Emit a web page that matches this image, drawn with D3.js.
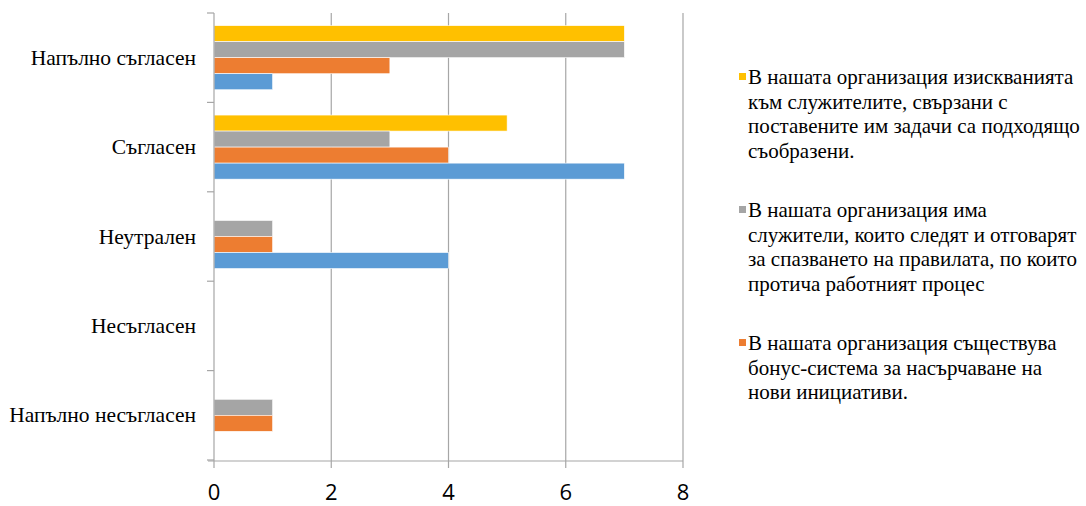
<!DOCTYPE html>
<html>
<head>
<meta charset="utf-8">
<script src="https://cdn.jsdelivr.net/npm/d3@7"></script>
<style>
  body { margin: 0; background: #fff; }
  svg { display: block; }
</style>
</head>
<body>
<div id="chart"></div>
<script>
// categories, top to bottom
const categories = ["Напълно съгласен", "Съгласен", "Неутрален", "Несъгласен", "Напълно несъгласен"];

// series values, one per category (same order)
const blueVals   = [1, 7, 4, 0, 0];
const orangeVals = [3, 4, 1, 0, 1];
const grayVals   = [7, 3, 1, 0, 1];
const yellowVals = [7, 5, 0, 0, 0];

const xTicks = [0, 2, 4, 6, 8];

// legend texts (blue series is not shown in the legend)
const legendYellow = ["В нашата организация изискванията", "към служителите, свързани с", "поставените им задачи са подходящо", "съобразени."];
const legendGray   = ["В нашата организация има", "служители, които следят и отговарят", "за спазването на правилата, по които", "протича работният процес"];
const legendOrange = ["В нашата организация съществува", "бонус-система за насърчаване на", "нови инициативи."];

const series = [
  { key: "yellow", color: "#FFC000", values: yellowVals, legend: legendYellow },
  { key: "gray",   color: "#A5A5A5", values: grayVals,   legend: legendGray },
  { key: "orange", color: "#ED7D31", values: orangeVals, legend: legendOrange },
  { key: "blue",   color: "#5B9BD5", values: blueVals,   legend: null }
];

const width = 1086;
const height = 506;
const plot = { left: 214, right: 683, top: 13, bottom: 460 };
const serif = "Liberation Serif, Times New Roman, serif";

const svg = d3.select("#chart")
  .append("svg")
  .attr("width", width)
  .attr("height", height);

const xScale = d3.scaleLinear()
  .domain([0, 8])
  .range([plot.left, plot.right]);

const yScale = d3.scaleBand()
  .domain(categories)
  .range([plot.top, plot.bottom]);

const yInner = d3.scaleBand()
  .domain(series.map(d => d.key))
  .range([0, yScale.bandwidth()])
  .paddingOuter(0.79);

// gridlines
svg.append("g")
  .selectAll("line")
  .data(xTicks.filter(d => d > 0))
  .join("line")
  .attr("x1", d => xScale(d))
  .attr("x2", d => xScale(d))
  .attr("y1", plot.top)
  .attr("y2", plot.bottom + 8)
  .attr("stroke", "#a6a6a6")
  .attr("stroke-width", 1.2);

// bars
const rows = [];
categories.forEach((c, i) => {
  series.forEach(s => rows.push({ cat: c, key: s.key, color: s.color, value: s.values[i] }));
});

svg.append("g")
  .selectAll("rect")
  .data(rows.filter(d => d.value > 0))
  .join("rect")
  .attr("x", xScale(0))
  .attr("y", d => yScale(d.cat) + yInner(d.key))
  .attr("width", d => xScale(d.value) - xScale(0))
  .attr("height", yInner.bandwidth())
  .attr("fill", d => d.color)
  .attr("stroke", "#fff")
  .attr("stroke-width", 0.6);

// y axis line + ticks at band boundaries
svg.append("line")
  .attr("x1", xScale(0)).attr("x2", xScale(0))
  .attr("y1", plot.top).attr("y2", plot.bottom + 8)
  .attr("stroke", "#a6a6a6")
  .attr("stroke-width", 1.2);

const bounds = categories.map(c => yScale(c)).concat([plot.bottom]);
svg.append("g")
  .selectAll("line")
  .data(bounds)
  .join("line")
  .attr("x1", xScale(0) - 7)
  .attr("x2", xScale(0))
  .attr("y1", d => d)
  .attr("y2", d => d)
  .attr("stroke", "#a6a6a6")
  .attr("stroke-width", 1.2);

// x axis line
svg.append("line")
  .attr("x1", xScale(0) - 6).attr("x2", plot.right)
  .attr("y1", plot.bottom + 1).attr("y2", plot.bottom + 1)
  .attr("stroke", "#a6a6a6")
  .attr("stroke-width", 1.2);

// x tick labels
svg.append("g")
  .selectAll("text")
  .data(xTicks)
  .join("text")
  .attr("x", d => xScale(d))
  .attr("y", 499.5)
  .attr("text-anchor", "middle")
  .style("font-family", "Open Sans, sans-serif")
  .style("font-size", "22px")
  .attr("fill", "#000")
  .text(d => d);

// category labels
svg.append("g")
  .selectAll("text")
  .data(categories)
  .join("text")
  .attr("x", 196)
  .attr("y", d => yScale(d) + yScale.bandwidth() / 2 + 7)
  .attr("text-anchor", "end")
  .style("font-family", serif)
  .style("font-size", "21.5px")
  .attr("fill", "#000")
  .text(d => d);

// legend
const legendTops = [84, 217, 350];
const lineH = 24.5;
const legendItems = series.filter(s => s.legend);
const lg = svg.append("g")
  .selectAll("g")
  .data(legendItems)
  .join("g");

lg.append("rect")
  .attr("x", 739)
  .attr("y", (d, i) => legendTops[i] - 11)
  .attr("width", 7)
  .attr("height", 7)
  .attr("fill", d => d.color);

lg.append("text")
  .style("font-family", serif)
  .style("font-size", "21px")
  .attr("fill", "#000")
  .selectAll("tspan")
  .data((d, i) => d.legend.map((t, j) => ({ t, y: legendTops[i] + j * lineH })))
  .join("tspan")
  .attr("x", 748)
  .attr("y", d => d.y)
  .text(d => d.t);
</script>
</body>
</html>
